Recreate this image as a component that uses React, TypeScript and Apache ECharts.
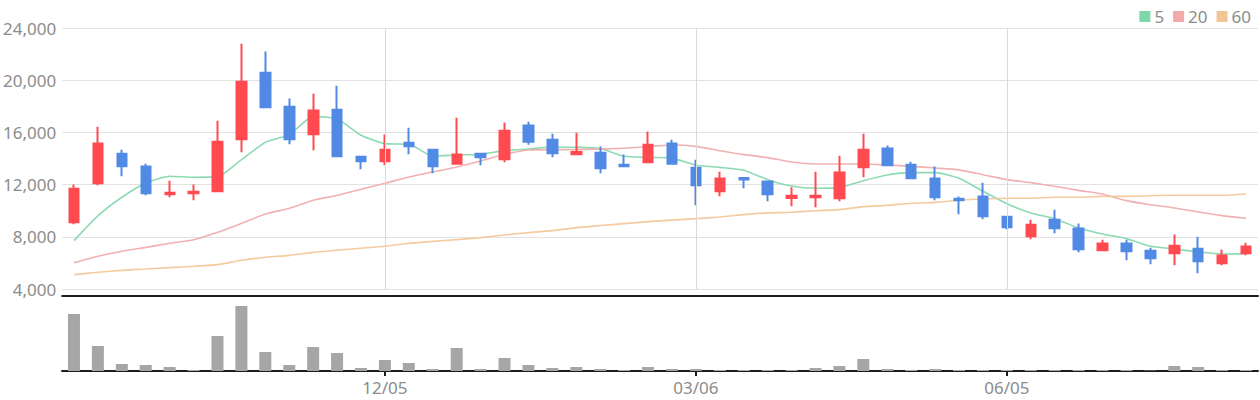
import React, { useEffect, useRef } from "react";
import * as echarts from "echarts";

const dates = [
  "09/05", "09/12", "09/19", "09/26", "10/03", "10/10", "10/17", "10/24", "10/31", "11/07",
  "11/14", "11/21", "11/28", "12/05", "12/12", "12/19", "12/26", "01/02", "01/09", "01/16",
  "01/23", "01/30", "02/06", "02/13", "02/20", "02/27", "03/06", "03/13", "03/20", "03/27",
  "04/03", "04/10", "04/17", "04/24", "05/01", "05/08", "05/15", "05/22", "05/29", "06/05",
  "06/12", "06/19", "06/26", "07/03", "07/10", "07/17", "07/24", "07/31", "08/07", "08/14",
];

// [open, close, low, high]
const ohlc = [
  [9110, 11690, 8960, 12000],
  [12100, 15140, 11950, 16440],
  [14370, 13400, 12640, 14680],
  [13380, 11330, 11180, 13600],
  [11260, 11380, 11030, 12300],
  [11330, 11460, 10800, 12000],
  [11490, 15290, 11410, 16900],
  [15470, 19890, 14470, 22800],
  [20580, 17920, 17900, 22190],
  [17970, 15470, 15090, 18590],
  [15850, 17670, 14630, 18970],
  [17740, 14170, 14090, 19580],
  [14140, 13780, 13170, 14220],
  [13780, 14680, 13480, 15830],
  [15210, 14930, 14320, 16360],
  [14680, 13400, 12870, 14700],
  [13600, 14300, 13530, 17130],
  [14370, 14090, 13480, 14450],
  [13940, 16130, 13710, 16750],
  [16520, 15290, 15060, 16820],
  [15440, 14400, 14090, 15900],
  [14320, 14500, 14240, 15980],
  [14450, 13250, 12870, 14910],
  [13530, 13400, 13320, 14300],
  [13710, 15060, 13700, 16060],
  [15140, 13600, 13530, 15440],
  [13300, 11950, 10410, 13910],
  [11490, 12460, 11100, 12990],
  [12510, 12400, 11720, 12510],
  [12230, 11260, 10720, 12230],
  [10980, 11150, 10340, 11790],
  [11030, 11150, 10260, 12990],
  [10950, 12920, 10720, 14220],
  [13320, 14680, 12560, 15900],
  [14760, 13480, 13400, 14990],
  [13530, 12480, 12410, 13760],
  [12460, 11030, 10800, 13380],
  [10920, 10800, 9720, 11080],
  [11080, 9570, 9340, 12150],
  [9540, 8730, 8570, 9620],
  [8040, 8930, 7810, 9310],
  [9310, 8650, 8270, 10080],
  [8630, 7040, 6810, 9010],
  [6970, 7480, 6890, 7780],
  [7480, 6890, 6200, 7780],
  [6940, 6350, 5890, 7170],
  [6740, 7320, 5820, 8170],
  [7090, 6120, 5200, 8010],
  [5970, 6560, 5820, 7020],
  [6740, 7250, 6580, 7550],
];

const ma5 = [
  7710, 9620, 11030, 12120, 12640, 12560, 12610, 13910, 15240, 15830,
  17230, 17030, 15780, 15140, 15090, 14190, 14270, 14320, 14600, 14730,
  14880, 14860, 14760, 14170, 14090, 14030, 13480, 13320, 13100, 12380,
  11890, 11720, 11770, 12300, 12740, 12920, 12920, 12480, 11490, 10540,
  9830, 9390, 8680, 8220, 7860, 7270, 7070, 6840, 6680, 6710,
];

const ma20 = [
  6020, 6510, 6890, 7190, 7500, 7780, 8340, 9030, 9750, 10180,
  10800, 11180, 11640, 12100, 12580, 12970, 13350, 13810, 14320, 14650,
  14680, 14680, 14730, 14780, 14910, 15040, 14930, 14600, 14300, 14070,
  13730, 13580, 13580, 13580, 13500, 13400, 13270, 13130, 12760, 12380,
  12150, 11870, 11560, 11280, 10770, 10460, 10210, 9900, 9620, 9420,
];

const ma60 = [
  5100, 5280, 5430, 5530, 5640, 5740, 5870, 6200, 6430, 6580,
  6810, 6970, 7120, 7270, 7500, 7650, 7780, 7940, 8140, 8320,
  8470, 8700, 8860, 9010, 9160, 9280, 9390, 9520, 9700, 9830,
  9880, 10000, 10080, 10310, 10410, 10570, 10640, 10800, 10900, 10950,
  10950, 11030, 11030, 11100, 11100, 11150, 11180, 11180, 11180, 11280,
];

const volume = [
  570, 250, 70, 60, 40, 10, 350, 650, 190, 60,
  240, 180, 30, 110, 80, 20, 230, 20, 130, 60,
  30, 40, 20, 10, 40, 20, 20, 10, 10, 10,
  10, 30, 50, 120, 20, 10, 20, 10, 10, 10,
  10, 10, 10, 10, 10, 4, 50, 40, 10, 10,
];

const markedDates = ["12/05", "03/06", "06/05"];
const yTicks = { min: 4000, max: 24000, step: 4000 };

const UP = "#ff4a50";
const DOWN = "#508ae5";
const FONT = "Noto Sans";
const LABEL_GRAY = "#8c8c8c";

export default function App() {
  const ref = useRef<HTMLDivElement>(null);

  useEffect(() => {
    if (!ref.current) return;
    const chart = echarts.init(ref.current, null, { renderer: "svg" });
    const showMarked = (_i: number, v: string) => markedDates.includes(v);

    chart.setOption({
      animation: false,
      backgroundColor: "#ffffff",
      textStyle: { fontFamily: FONT },
      legend: {
        data: ["5", "20", "60"],
        right: 4,
        top: 3,
        itemWidth: 11,
        itemHeight: 11,
        itemGap: 9,
        icon: "rect",
        textStyle: { color: LABEL_GRAY, fontSize: 17, fontFamily: FONT, padding: [0, 0, 0, -1] },
      },
      grid: [
        { left: 62, right: 2, top: 28, height: 261 },
        { left: 62, right: 2, top: 297, height: 74 },
      ],
      xAxis: [
        {
          type: "category",
          gridIndex: 0,
          data: dates,
          boundaryGap: true,
          offset: 7,
          axisLine: { show: true, onZero: false, lineStyle: { color: "#1c1c1c", width: 2 } },
          axisTick: { show: false },
          axisLabel: { show: false },
          splitLine: { show: false },
        },
        {
          type: "category",
          gridIndex: 1,
          data: dates,
          boundaryGap: true,
          axisLine: { show: true, onZero: false, lineStyle: { color: "#1c1c1c", width: 2 } },
          axisTick: {
            show: true,
            alignWithLabel: true,
            interval: showMarked,
            length: 5,
            lineStyle: { color: "#1c1c1c", width: 2 },
          },
          axisLabel: {
            interval: showMarked,
            color: LABEL_GRAY,
            fontSize: 17,
            fontFamily: FONT,
            margin: 8,
          },
          splitLine: { show: false },
        },
      ],
      yAxis: [
        {
          type: "value",
          gridIndex: 0,
          min: yTicks.min,
          max: yTicks.max,
          interval: yTicks.step,
          axisLine: { show: false },
          axisTick: { show: false },
          axisLabel: {
            color: LABEL_GRAY,
            fontSize: 17,
            fontFamily: FONT,
            margin: 6,
            formatter: (v: number) => v.toLocaleString("en-US"),
          },
          splitLine: { show: true, lineStyle: { color: "#e2e2e2", width: 1 } },
        },
        {
          type: "value",
          gridIndex: 1,
          min: 0,
          max: 740,
          show: false,
          splitLine: { show: false },
        },
      ],
      series: [
        {
          type: "candlestick",
          xAxisIndex: 0,
          yAxisIndex: 0,
          data: ohlc,
          barWidth: 10,
          itemStyle: {
            color: UP,
            color0: DOWN,
            borderColor: UP,
            borderColor0: DOWN,
            borderWidth: 2,
          },
          markLine: {
            silent: true,
            symbol: ["none", "none"],
            label: { show: false },
            lineStyle: { color: "#d9d9d9", width: 1, type: "solid" },
            data: markedDates.map((d) => ({ xAxis: d })),
          },
          z: 3,
        },
        {
          name: "5",
          type: "line",
          xAxisIndex: 0,
          yAxisIndex: 0,
          data: ma5,
          smooth: 0.2,
          symbol: "none",
          color: "#7fd6a9",
          lineStyle: { width: 1.6, color: "#7fd6a9", opacity: 0.9 },
          z: 2,
        },
        {
          name: "20",
          type: "line",
          xAxisIndex: 0,
          yAxisIndex: 0,
          data: ma20,
          smooth: 0.2,
          symbol: "none",
          color: "#f1a9a9",
          lineStyle: { width: 1.6, color: "#f1a9a9", opacity: 0.9 },
          z: 2,
        },
        {
          name: "60",
          type: "line",
          xAxisIndex: 0,
          yAxisIndex: 0,
          data: ma60,
          smooth: 0.2,
          symbol: "none",
          color: "#f2c595",
          lineStyle: { width: 1.6, color: "#f2c595", opacity: 0.9 },
          z: 2,
        },
        {
          type: "bar",
          xAxisIndex: 1,
          yAxisIndex: 1,
          data: volume,
          barWidth: 12,
          itemStyle: { color: "#a6a6a6" },
        },
      ],
    });

    return () => chart.dispose();
  }, []);

  return (
    <div
      ref={ref}
      style={{ position: "fixed", left: 0, top: 0, width: 1260, height: 400, background: "#fff" }}
    />
  );
}
